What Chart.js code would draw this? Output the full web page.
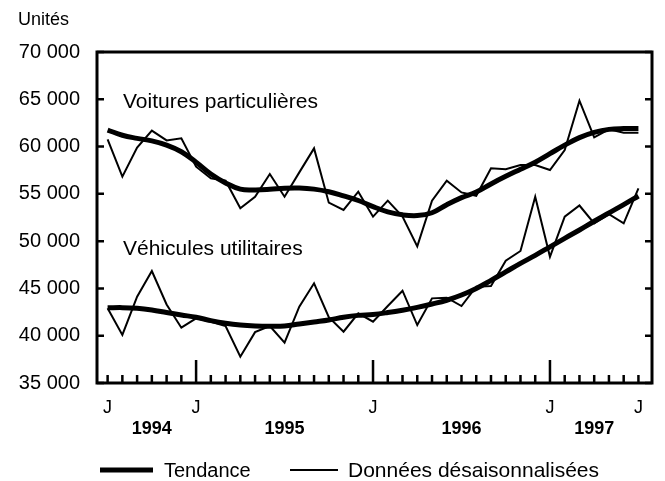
<!DOCTYPE html>
<html>
<head>
<meta charset="utf-8">
<script src="https://cdn.jsdelivr.net/npm/chart.js@4.4.1/dist/chart.umd.min.js"></script>
<style>
  html, body { margin: 0; padding: 0; background: #fff; }
  #wrap { width: 665px; height: 481px; }
</style>
</head>
<body>
<div id="wrap"><canvas id="chart" width="665" height="481"></canvas></div>
<script>
// Monthly series, July 1994 to July 1997
const months = [
  '1994-07', '1994-08', '1994-09', '1994-10', '1994-11', '1994-12',
  '1995-01', '1995-02', '1995-03', '1995-04', '1995-05', '1995-06',
  '1995-07', '1995-08', '1995-09', '1995-10', '1995-11', '1995-12',
  '1996-01', '1996-02', '1996-03', '1996-04', '1996-05', '1996-06',
  '1996-07', '1996-08', '1996-09', '1996-10', '1996-11', '1996-12',
  '1997-01', '1997-02', '1997-03', '1997-04', '1997-05', '1997-06',
  '1997-07'
];

const voituresTendance = [
  61750, 61200, 60870, 60600, 60150, 59450, 58350, 57100, 56150, 55500,
  55420, 55480, 55600, 55620, 55500, 55220, 54780, 54300, 53650, 53100,
  52780, 52700, 53000, 53850, 54600, 55200, 56050, 56850, 57600, 58350,
  59250, 60150, 60950, 61500, 61820, 61900, 61900
];
const voituresCvs = [
  60770, 56820, 59900, 61680, 60650, 60870, 57870, 56640, 56390, 53470,
  54700, 57100, 54700, 57270, 59810, 54070, 53300, 55230, 52590, 54280,
  52600, 49450, 54280, 56400, 55150, 54800, 57700, 57600, 58050, 58050,
  57520, 59640, 64850, 60980, 61820, 61470, 61450
];
const utilitairesTendance = [
  42950, 42970, 42900, 42720, 42450, 42190, 41950, 41600, 41320, 41130,
  41030, 41000, 41030, 41240, 41450, 41660, 41950, 42150, 42250, 42450,
  42700, 43000, 43350, 43750, 44300, 45000, 45850, 46750, 47650, 48500,
  49400, 50300, 51180, 52100, 52980, 53860, 54770
];
const utilitairesCvs = [
  42900, 40080, 44130, 46840, 43300, 40850, 41840, 41480, 41030, 37780,
  40380, 41030, 39270, 43070, 45540, 41950, 40430, 42370, 41480, 43140,
  44760, 41130, 43950, 44020, 43140, 45190, 45260, 47930, 48960, 54700,
  48350, 52580, 53770, 51880, 52850, 51880, 55590
];

// month letters under the axis (only some months are named)
const monthLetters = [
  'J', '', '', '', '', '', 'J', '', '', '', '', '', '',
  '', '', '', '', '', 'J', '', '', '', '', '', '',
  '', '', '', '', '', 'J', '', '', '', '', '', 'J'
];
// year captions, placed under the month index given
const years = ['1994', '1995', '1996', '1997'];
const yearAt = [3, 12, 24, 33];

const FONT = 'Liberation Sans, Arial, Helvetica, sans-serif';

function toPoints(arr) {
  return arr.map((v, i) => ({ x: i, y: v }));
}
function fmt(v) {
  return String(v).replace(/\B(?=(\d{3})+(?!\d))/g, ' ');
}
function isJan(i) { return months[i].endsWith('-01'); }

// frame, inner tick marks, series names and legend
const decorations = {
  id: 'decorations',
  afterDatasetsDraw(chart) {
    const { ctx, chartArea: a, scales: { x, y } } = chart;
    ctx.save();
    ctx.strokeStyle = '#000';
    ctx.lineWidth = 3;
    ctx.strokeRect(a.left, a.top, a.right - a.left, a.bottom - a.top);

    ctx.lineWidth = 2.5;
    ctx.beginPath();
    y.ticks.forEach(t => {
      const py = y.getPixelForValue(t.value);
      ctx.moveTo(a.left, py); ctx.lineTo(a.left + 7, py);
      ctx.moveTo(a.right, py); ctx.lineTo(a.right - 7, py);
    });
    x.ticks.forEach(t => {
      const px = x.getPixelForValue(t.value);
      const len = isJan(t.value) ? 23 : 8;
      ctx.moveTo(px, a.bottom); ctx.lineTo(px, a.bottom - len);
    });
    ctx.stroke();

    ctx.fillStyle = '#000';
    ctx.font = '21px ' + FONT;
    ctx.textBaseline = 'alphabetic';
    ctx.textAlign = 'left';
    ctx.fillText('Voitures particulières', 123, 108);
    ctx.fillText('Véhicules utilitaires', 123, 255);

    ctx.font = '18px ' + FONT;
    ctx.fillText('Unités', 18, 25);

    // legend
    ctx.textBaseline = 'middle';
    ctx.lineWidth = 5;
    ctx.beginPath(); ctx.moveTo(100, 470); ctx.lineTo(153, 470); ctx.stroke();
    ctx.font = '20px ' + FONT;
    ctx.fillText('Tendance', 164, 471);
    ctx.lineWidth = 2;
    ctx.beginPath(); ctx.moveTo(290, 470); ctx.lineTo(338, 470); ctx.stroke();
    ctx.font = '21px ' + FONT;
    ctx.fillText('Données désaisonnalisées', 348, 471);
    ctx.restore();
  }
};

const trendStyle = { borderColor: '#000', borderWidth: 5, tension: 0.4, pointRadius: 0, fill: false };
const rawStyle = { borderColor: '#000', borderWidth: 2, tension: 0, pointRadius: 0, fill: false };

new Chart(document.getElementById('chart'), {
  type: 'line',
  data: {
    datasets: [
      Object.assign({ label: 'Tendance', data: toPoints(voituresTendance) }, trendStyle),
      Object.assign({ label: 'Tendance', data: toPoints(utilitairesTendance) }, trendStyle),
      Object.assign({ label: 'Données désaisonnalisées', data: toPoints(voituresCvs) }, rawStyle),
      Object.assign({ label: 'Données désaisonnalisées', data: toPoints(utilitairesCvs) }, rawStyle)
    ]
  },
  options: {
    responsive: false,
    animation: false,
    devicePixelRatio: 1,
    layout: { padding: { left: 0, right: 13, top: 52, bottom: 0 } },
    plugins: { legend: { display: false }, tooltip: { enabled: false } },
    scales: {
      x: {
        type: 'linear',
        min: -0.72,
        max: 36.92,
        grid: { display: false, drawTicks: false },
        border: { display: false },
        afterBuildTicks(scale) {
          scale.ticks = months.map((m, i) => ({ value: i }));
        },
        afterFit(scale) { scale.height = 98; },
        ticks: {
          autoSkip: false,
          maxRotation: 0,
          minRotation: 0,
          padding: 14,
          color: '#000',
          font: (c) => ({
            family: FONT,
            size: 18,
            weight: yearAt.includes(c.tick && c.tick.value) ? 'bold' : 'normal'
          }),
          callback: (v) => {
            const k = yearAt.indexOf(v);
            return [monthLetters[v] || '', k >= 0 ? years[k] : ''];
          }
        }
      },
      y: {
        min: 35000,
        max: 70000,
        grid: { display: false, drawTicks: false },
        border: { display: false },
        afterFit(scale) { scale.width = 97; },
        ticks: {
          stepSize: 5000,
          padding: 17,
          color: '#000',
          font: { family: FONT, size: 20 },
          callback: (v) => fmt(v)
        }
      }
    }
  },
  plugins: [decorations]
});
</script>
</body>
</html>
